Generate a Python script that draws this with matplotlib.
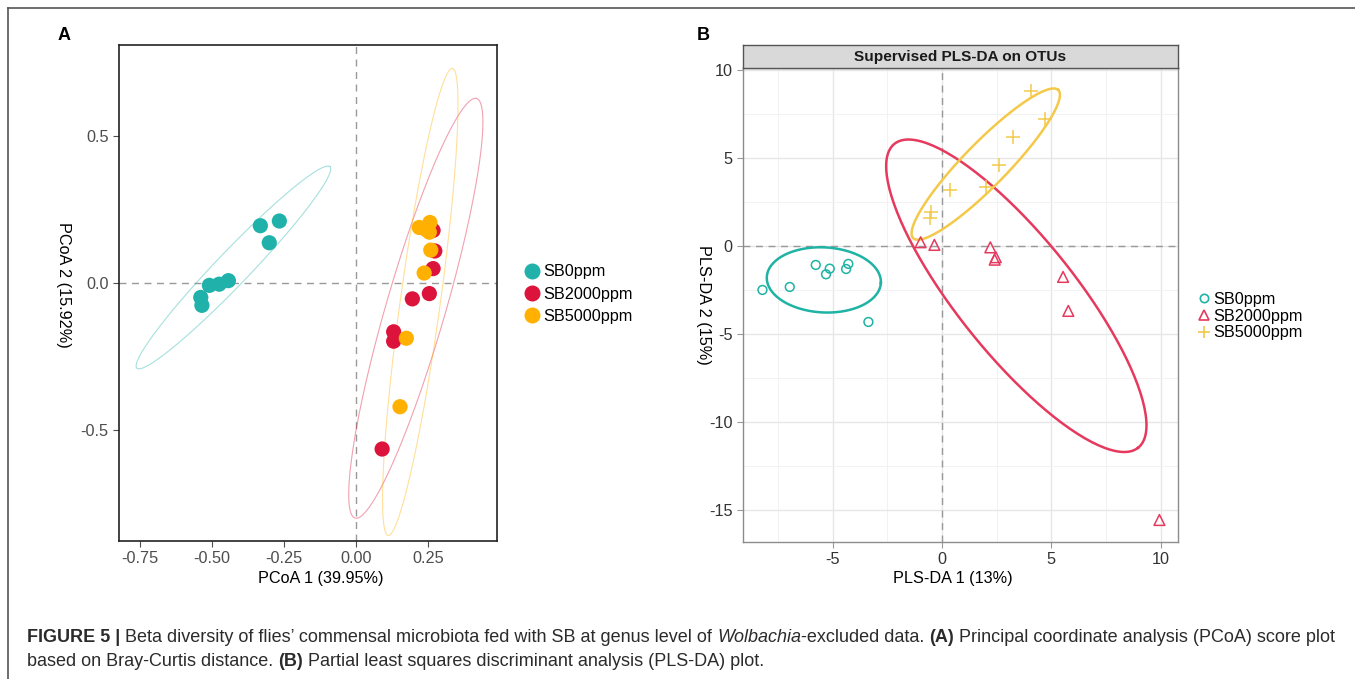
import numpy as np
import matplotlib
matplotlib.use("Agg")
import matplotlib.pyplot as plt
from matplotlib.lines import Line2D

plt.rcParams['font.family'] = ['Liberation Sans', 'DejaVu Sans']
plt.rcParams['axes.unicode_minus'] = False

groups = ["SB0ppm", "SB2000ppm", "SB5000ppm"]

# panel A - PCoA scores
pcoa_x = {
    "SB0ppm": [-0.266, -0.332, -0.301, -0.443, -0.475, -0.509, -0.539, -0.535],
    "SB2000ppm": [0.268, 0.274, 0.268, 0.255, 0.196, 0.131, 0.131, 0.091],
    "SB5000ppm": [0.220, 0.257, 0.255, 0.260, 0.237, 0.175, 0.153, 0.243],
}
pcoa_y = {
    "SB0ppm": [0.211, 0.195, 0.137, 0.008, -0.004, -0.008, -0.049, -0.076],
    "SB2000ppm": [0.179, 0.109, 0.049, -0.036, -0.054, -0.166, -0.198, -0.565],
    "SB5000ppm": [0.189, 0.206, 0.173, 0.112, 0.034, -0.188, -0.421, 0.182],
}
# ellipses: center, tip of major axis, minor/major ratio
pcoa_ell_center = {"SB0ppm": (-0.4255, 0.053), "SB2000ppm": (0.208, -0.086), "SB5000ppm": (0.2235, -0.0645)}
pcoa_ell_tip = {"SB0ppm": (-0.090, 0.396), "SB2000ppm": (0.419, 0.628), "SB5000ppm": (0.335, 0.730)}
pcoa_ell_ratio = {"SB0ppm": 0.12, "SB2000ppm": 0.136, "SB5000ppm": 0.085}

# panel B - PLS-DA scores
pls_x = {
    "SB0ppm": [-5.78, -5.14, -5.31, -4.29, -4.39, -6.97, -8.22, -3.37],
    "SB2000ppm": [-0.98, -0.35, 2.21, 2.46, 2.41, 5.54, 5.78, 9.95],
    "SB5000ppm": [4.06, 4.73, 3.24, 2.61, 2.01, 0.37, -0.50, -0.56],
}
pls_y = {
    "SB0ppm": [-1.08, -1.29, -1.61, -1.02, -1.31, -2.33, -2.50, -4.32],
    "SB2000ppm": [0.21, 0.06, -0.08, -0.64, -0.78, -1.76, -3.69, -15.57],
    "SB5000ppm": [8.82, 7.20, 6.21, 4.60, 3.37, 3.18, 1.95, 1.57],
}
pls_ell_center = {"SB0ppm": (-5.41, -1.93), "SB2000ppm": (3.40, -2.83), "SB5000ppm": (2.0, 4.65)}
pls_ell_tip = {"SB0ppm": (-2.80, -2.10), "SB2000ppm": (8.98, -11.46), "SB5000ppm": (5.32, 8.86)}
pls_ell_ratio = {"SB0ppm": 0.57, "SB2000ppm": 0.30, "SB5000ppm": 0.21}

colA = {"SB0ppm": "#20B2AA", "SB2000ppm": "#DC143C", "SB5000ppm": "#FFB000"}
colB = {"SB0ppm": "#1FB3A5", "SB2000ppm": "#E6395E", "SB5000ppm": "#F4C94A"}
mkB = {"SB0ppm": "o", "SB2000ppm": "^", "SB5000ppm": "+"}

W, H = 1355, 679
fig = plt.figure(figsize=(W / 100, H / 100), dpi=100)
fig.patch.set_facecolor("white")


def px_axes(x0, y0, x1, y1):
    return fig.add_axes([x0 / W, 1 - y1 / H, (x1 - x0) / W, (y1 - y0) / H])


def draw_ellipse(ax, c, tip, ratio, color, lw, alpha=1.0):
    tr = ax.transData
    cd = tr.transform(c)
    td = tr.transform(tip)
    u = td - cd
    v = np.array([-u[1], u[0]]) * ratio
    t = np.linspace(0, 2 * np.pi, 200)
    pts = cd + np.outer(np.cos(t), u) + np.outer(np.sin(t), v)
    dat = tr.inverted().transform(pts)
    ax.plot(dat[:, 0], dat[:, 1], color=color, lw=lw, alpha=alpha, zorder=2)


# ---------------- panel A ----------------
axA = px_axes(119, 45, 497, 541)
axA.set_xlim(-0.823, 0.490)
axA.set_ylim(-0.878, 0.810)
axA.axhline(0, color="#999999", ls=(0, (5, 4)), lw=1, zorder=1)
axA.axvline(0, color="#999999", ls=(0, (5, 4)), lw=1, zorder=1)
for g in groups:
    draw_ellipse(axA, pcoa_ell_center[g], pcoa_ell_tip[g], pcoa_ell_ratio[g], colA[g], 0.8, 0.4)
for g in groups:
    axA.scatter(pcoa_x[g], pcoa_y[g], s=120, color=colA[g], edgecolors="none", zorder=3)
axA.set_xticks([-0.75, -0.5, -0.25, 0, 0.25])
axA.set_xticklabels(["-0.75", "-0.50", "-0.25", "0.00", "0.25"])
axA.set_yticks([-0.5, 0, 0.5])
axA.set_yticklabels(["-0.5", "0.0", "0.5"])
axA.tick_params(labelsize=11.7, labelcolor="#4D4D4D", color="#4D4D4D", length=4, width=0.8)
for s in axA.spines.values():
    s.set_color("#222222")
    s.set_linewidth(1.2)
axA.set_xlabel("PCoA 1 (39.95%)", fontsize=11.7, color="black")
axA.set_ylabel("PCoA 2 (15.92%)", fontsize=11.7, color="black", rotation=270)
axA.xaxis.set_label_coords((321 - 119) / 378, -(578 - 541) / 496)
axA.yaxis.set_label_coords(-(119 - 63) / 378, (541 - 285) / 496)
axA.xaxis.label.set_va("center")
axA.yaxis.label.set_va("center")

hA = [Line2D([], [], marker="o", ls="", markersize=10.5, color=colA[g]) for g in groups]
fig.legend(hA, groups, loc="center left", bbox_to_anchor=(514 / W, 1 - 294 / H),
           frameon=False, fontsize=11.7, handletextpad=0.1, labelspacing=0.45,
           handlelength=1.2, borderpad=0)

# ---------------- panel B ----------------
axB = px_axes(743, 68, 1178, 542)
axB.set_xlim(-9.11, 10.80)
axB.set_ylim(-16.82, 10.11)
axB.set_xticks([-5, 0, 5, 10])
axB.set_yticks([-15, -10, -5, 0, 5, 10])
axB.set_xticks([-7.5, -2.5, 2.5, 7.5], minor=True)
axB.set_yticks([-12.5, -7.5, -2.5, 2.5, 7.5], minor=True)
axB.grid(True, which="major", color="#E6E6E6", lw=1.0, zorder=0)
axB.grid(True, which="minor", color="#F2F2F2", lw=0.7, zorder=0)
axB.set_axisbelow(True)
axB.tick_params(which="minor", length=0)
axB.tick_params(which="major", labelsize=11.7, labelcolor="#333333", color="#999999", length=4, width=0.8)
axB.axhline(0, color="#999999", ls=(0, (5, 4)), lw=1, zorder=1)
axB.axvline(0, color="#999999", ls=(0, (5, 4)), lw=1, zorder=1)
for g in groups:
    draw_ellipse(axB, pls_ell_center[g], pls_ell_tip[g], pls_ell_ratio[g], colB[g], 1.8)
for g in groups:
    if mkB[g] == "+":
        axB.scatter(pls_x[g], pls_y[g], s=90, marker="+", color=colB[g], linewidths=1.1, zorder=3)
    elif mkB[g] == "^":
        axB.scatter(pls_x[g], pls_y[g], s=60, marker="^", facecolors="none", edgecolors=colB[g], linewidths=1.1, zorder=3)
    else:
        axB.scatter(pls_x[g], pls_y[g], s=40, marker="o", facecolors="none", edgecolors=colB[g], linewidths=1.1, zorder=3)
for s in axB.spines.values():
    s.set_color("#8C8C8C")
    s.set_linewidth(1.0)
axB.set_xlabel("PLS-DA 1 (13%)", fontsize=11.7, color="black")
axB.set_ylabel("PLS-DA 2 (15%)", fontsize=11.7, color="black", rotation=270)
axB.xaxis.set_label_coords((953 - 743) / 435, -(578 - 542) / 474)
axB.yaxis.set_label_coords(-(743 - 703) / 435, (542 - 305) / 474)
axB.xaxis.label.set_va("center")
axB.yaxis.label.set_va("center")

# strip on top of panel B
axS = px_axes(743, 45, 1178, 68)
axS.set_facecolor("#D9D9D9")
axS.set_xticks([])
axS.set_yticks([])
for s in axS.spines.values():
    s.set_color("#555555")
    s.set_linewidth(1.0)
axS.text(0.5, 0.5, "Supervised PLS-DA on OTUs", ha="center", va="center",
         fontsize=11.1, fontweight="bold", color="#1A1A1A", transform=axS.transAxes)

hB = [Line2D([], [], marker="o", ls="", markersize=6, markerfacecolor="none",
             markeredgecolor=colB["SB0ppm"], markeredgewidth=1.2),
      Line2D([], [], marker="^", ls="", markersize=7, markerfacecolor="none",
             markeredgecolor=colB["SB2000ppm"], markeredgewidth=1.2),
      Line2D([], [], marker="+", ls="", markersize=9, color=colB["SB5000ppm"], markeredgewidth=1.2)]
fig.legend(hB, groups, loc="center left", bbox_to_anchor=(1188 / W, 1 - 316 / H),
           frameon=False, fontsize=11.7, handletextpad=0.05, labelspacing=0.12,
           handlelength=1.0, borderpad=0)

# panel letters
fig.text(58 / W, 1 - 35 / H, "A", fontsize=13, fontweight="bold", ha="left", va="center")
fig.text(697 / W, 1 - 35 / H, "B", fontsize=13, fontweight="bold", ha="left", va="center")

# outer frame lines
fig.add_artist(Line2D([8 / W, 1], [1 - 8 / H, 1 - 8 / H], color="#555555", lw=1.2))
fig.add_artist(Line2D([8 / W, 8 / W], [0, 1 - 8 / H], color="#555555", lw=1.2))

# caption with mixed styles
renderer = fig.canvas.get_renderer()
cap_lines = [
    [("FIGURE 5 | ", "bold", "normal"),
     ("Beta diversity of flies’ commensal microbiota fed with SB at genus level of ", "normal", "normal"),
     ("Wolbachia", "normal", "italic"),
     ("-excluded data. ", "normal", "normal"),
     ("(A)", "bold", "normal"),
     (" Principal coordinate analysis (PCoA) score plot", "normal", "normal")],
    [("based on Bray-Curtis distance. ", "normal", "normal"),
     ("(B)", "bold", "normal"),
     (" Partial least squares discriminant analysis (PLS-DA) plot.", "normal", "normal")],
]
cap_y = [637, 661]
cap_size = 13.0


def text_width(s, weight, style):
    t1 = fig.text(0, 0, "x" + s + "x", fontsize=cap_size, fontweight=weight, fontstyle=style)
    t2 = fig.text(0, 0, "xx", fontsize=cap_size, fontweight=weight, fontstyle=style)
    w = t1.get_window_extent(renderer).width - t2.get_window_extent(renderer).width
    t1.remove()
    t2.remove()
    return w


for line, yy in zip(cap_lines, cap_y):
    x = 27
    for s, weight, style in line:
        fig.text(x / W, 1 - yy / H, s, fontsize=cap_size, fontweight=weight, fontstyle=style,
                 ha="left", va="center", color="#2B2B2B")
        x += text_width(s, weight, style)

fig.savefig("out.png", dpi=100)
